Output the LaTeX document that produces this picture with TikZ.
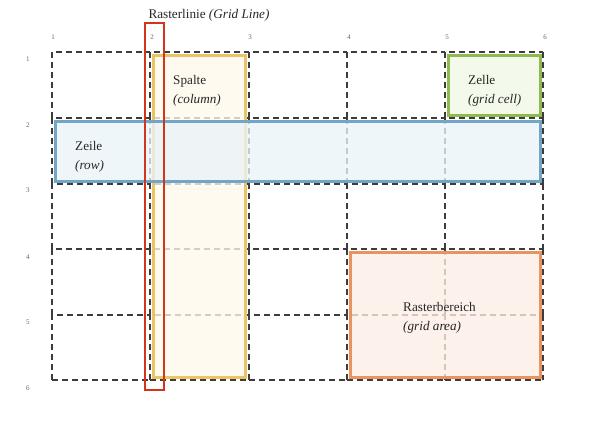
\documentclass[tikz,border=0pt]{standalone}
\usepackage{fontspec}
\setmainfont{Liberation Serif}
\definecolor{gridc}{HTML}{3C3C3C}
\definecolor{numc}{HTML}{666666}
\definecolor{colB}{HTML}{EAC465}
\definecolor{colF}{HTML}{FFF8EC}
\definecolor{rowB}{HTML}{72A5C6}
\definecolor{rowF}{HTML}{EAF3F8}
\definecolor{celB}{HTML}{8FBA4E}
\definecolor{celF}{HTML}{F1F8E6}
\definecolor{areB}{HTML}{EA9360}
\definecolor{areF}{HTML}{FDEEE5}
\definecolor{redB}{HTML}{D0361A}
\tikzset{
  cellbox/.style={draw=gridc, line width=2pt, dash pattern=on 6pt off 4pt},
  hilite/.style={line width=3pt, fill opacity=0.78},
  numlab/.style={font=\fontsize{7}{8}\selectfont, text=numc, inner sep=0pt},
  lab/.style={font=\fontsize{13.2}{19}\selectfont, align=left, anchor=west, inner sep=0pt, text=black!85},
}
\begin{document}
\begin{tikzpicture}[x=1pt,y=-1pt]
\useasboundingbox (0,0) rectangle (590,428);
% grid cells: each cell drawn from its top-left corner
\foreach \xa/\xb in {52/150,150/249,249/347,347/445,445/543}{
  \foreach \ya/\yb in {52/118,118/184,184/249,249/315,315/380}{
    \draw[cellbox] (\xa,\yb) -- (\xa,\ya) -- (\xb,\ya);
  }
}
% right and bottom borders
\foreach \ya/\yb in {52/118,118/184,184/249,249/315,315/380}{
  \draw[cellbox] (543,\ya) -- (543,\yb);
}
\foreach \xa/\xb in {52/150,150/249,249/347,347/445,445/543}{
  \draw[cellbox] (\xa,380) -- (\xb,380);
}
% column numbers
\foreach \n/\x in {1/53,2/152,3/250,4/349,5/447,6/545}{
  \node[numlab] (c\n) at (\x,37) {\n};
}
% row numbers
\foreach \n/\y in {1/59,2/125,3/190,4/257,5/322,6/388}{
  \node[numlab] (r\n) at (28,\y) {\n};
}
% highlighted regions
\draw[hilite, draw=colB, fill=colF] (153.5,55.5) rectangle (245.5,377.5);
\draw[hilite, draw=rowB, fill=rowF] (55.5,121.5) rectangle (540.5,181.5);
\draw[hilite, draw=celB, fill=celF] (448.5,55.5) rectangle (540.5,115.5);
\draw[hilite, draw=areB, fill=areF] (350.5,252.5) rectangle (540.5,377.5);
\draw[line width=2.5pt, draw=redB] (145,23) rectangle (164,390);
% labels
\node[font=\fontsize{13.2}{15}\selectfont, text=black!85, inner sep=0pt] (gl) at (209,15) {Rasterlinie \textit{(Grid Line)}};
\node[lab] (spalte) at (173,90.5) {Spalte\\\textit{(column)}};
\node[lab] (zeile) at (75,156.5) {Zeile\\\textit{(row)}};
\node[lab] (zelle) at (468,90.5) {Zelle\\\textit{(grid cell)}};
\node[lab] (area) at (403,317.5) {Rasterbereich\\\textit{(grid area)}};
\end{tikzpicture}
\end{document}
